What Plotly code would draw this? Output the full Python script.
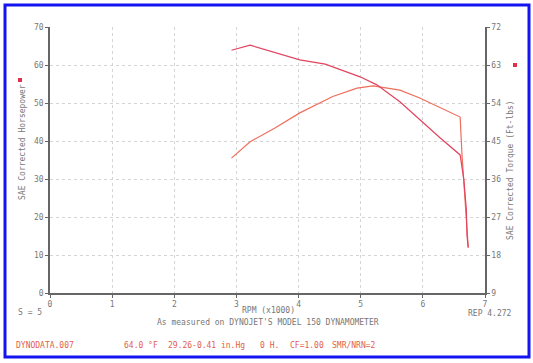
import plotly.graph_objects as go

# RPM in thousands
hp_rpm = [2.92, 3.22, 3.62, 4.02, 4.55, 4.94, 5.20, 5.63, 5.95, 6.28, 6.60, 6.63, 6.68, 6.73]
hp_val = [35.5, 39.8, 43.4, 47.4, 51.7, 53.9, 54.5, 53.4, 51.3, 48.7, 46.3, 36.3, 24.5, 12.1]

tq_rpm = [2.92, 3.22, 4.02, 4.43, 4.99, 5.26, 5.63, 5.95, 6.28, 6.60, 6.66, 6.70, 6.71, 6.73]
tq_val = [66.5, 67.7, 64.2, 63.2, 60.2, 58.3, 54.3, 50.0, 45.7, 41.7, 35.8, 28.7, 22.7, 19.7]

x_ticks = [0, 1, 2, 3, 4, 5, 6, 7]
hp_ticks = [0, 10, 20, 30, 40, 50, 60, 70]
tq_ticks = [9, 18, 27, 36, 45, 54, 63, 72]

W, H = 533, 363
L, R, T, B = 50, 485, 27, 293

def px(x):
    return (x - L) / (R - L)

def py(y):
    return (B - y) / (B - T)

fig = go.Figure()
fig.add_trace(go.Scatter(x=tq_rpm, y=tq_val, mode="lines", yaxis="y2",
                         line=dict(color="#e2445f", width=1.2), showlegend=False))
fig.add_trace(go.Scatter(x=hp_rpm, y=hp_val, mode="lines",
                         line=dict(color="#ee6e5c", width=1.2), showlegend=False))

tickfont = dict(family="DejaVu Sans Mono", size=8, color="#777")
gridc = "#d4d4d4"
fig.update_layout(
    width=W, height=H,
    margin=dict(l=L, r=W - R, t=T, b=H - B),
    paper_bgcolor="white", plot_bgcolor="white",
    xaxis=dict(range=[0, 7], tickvals=x_ticks, ticktext=[str(v) for v in x_ticks],
               showgrid=True, gridcolor=gridc, griddash="dot", gridwidth=1,
               showline=True, linecolor="#666", linewidth=1.5, zeroline=False,
               ticks="outside", ticklen=3, tickcolor="#666", tickfont=tickfont),
    yaxis=dict(range=[0, 70], tickvals=hp_ticks, ticktext=[str(v) for v in hp_ticks],
               showgrid=True, gridcolor=gridc, griddash="dot", gridwidth=1,
               showline=True, linecolor="#666", linewidth=1.5, zeroline=False,
               ticks="outside", ticklen=3, tickcolor="#666", tickfont=tickfont),
    yaxis2=dict(range=[9, 72], tickvals=tq_ticks, ticktext=[str(v) for v in tq_ticks],
                overlaying="y", side="right", showgrid=False,
                showline=True, linecolor="#666", linewidth=1.5, zeroline=False,
                ticks="outside", ticklen=3, tickcolor="#666", tickfont=tickfont),
)

small = dict(family="DejaVu Sans Mono", size=8, color="#777")
red = dict(family="DejaVu Sans Mono", size=8, color="#e0604a")

def ann(x, y, text, font, xanchor="center", angle=0):
    fig.add_annotation(x=px(x), y=py(y), xref="paper", yref="paper", text=text,
                       showarrow=False, font=font, xanchor=xanchor, yanchor="middle",
                       textangle=angle)

ann(22, 142, "SAE Corrected Horsepower", small, angle=-90)
ann(510, 170, "SAE Corrected Torque (Ft-lbs)", small, angle=-90)
ann(16, 312, "S = 5", small, xanchor="left")
ann(268, 310, "RPM (x1000)", small)
ann(268, 322, "As measured on DYNOJET'S MODEL 150 DYNAMOMETER", small)
ann(514, 313, "REP 4.272", small, xanchor="right")
ann(14, 345, "DYNODATA.007", red, xanchor="left")
ann(122, 345, "64.0 °F", red, xanchor="left")
ann(166, 345, "29.26-0.41 in.Hg", red, xanchor="left")
ann(258, 345, "0 H.", red, xanchor="left")
ann(288, 345, "CF=1.00", red, xanchor="left")
ann(330, 345, "SMR/NRN=2", red, xanchor="left")

# legend markers
for mx, my in [(20, 80), (515, 65)]:
    fig.add_shape(type="rect", xref="paper", yref="paper",
                  x0=px(mx - 2), x1=px(mx + 2), y0=py(my + 2), y1=py(my - 2),
                  fillcolor="#e0304a", line=dict(width=0))

# blue border
fig.add_shape(type="rect", xref="paper", yref="paper",
              x0=px(5), x1=px(529), y0=py(357), y1=py(5),
              line=dict(color="#1414f0", width=3))

fig.write_html("out.html", config={"displayModeBar": False},
               post_script="document.body.style.margin='0';document.body.style.overflow='hidden';")
